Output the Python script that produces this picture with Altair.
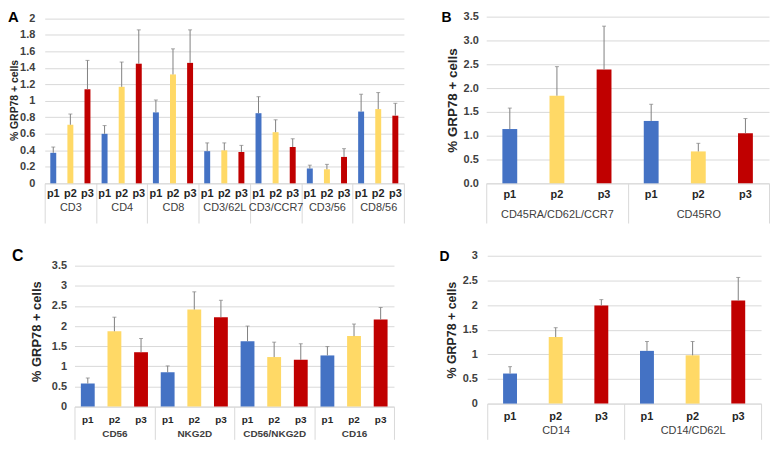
import altair as alt
import pandas as pd

P = ["p1", "p2", "p3"]
COLORS = ["#4472C4", "#FFD966", "#C00000"]
ERR_COLOR = "#808080"
GRID = "#d9d9d9"
YTITLE = "% GRP78 + cells"

# ---- Panel A ----
A_GROUPS = ["CD3", "CD4", "CD8", "CD3/62L", "CD3/CCR7", "CD3/56", "CD8/56"]
A_P1 = [0.37, 0.60, 0.86, 0.39, 0.85, 0.18, 0.87]
A_P1_ERR = [0.44, 0.70, 1.01, 0.49, 1.05, 0.22, 1.08]
A_P2 = [0.71, 1.17, 1.32, 0.40, 0.62, 0.17, 0.90]
A_P2_ERR = [0.84, 1.47, 1.63, 0.49, 0.77, 0.23, 1.10]
A_P3 = [1.14, 1.45, 1.46, 0.38, 0.44, 0.32, 0.82]
A_P3_ERR = [1.49, 1.86, 1.86, 0.46, 0.54, 0.42, 0.97]
A_TICKS = [0, 0.2, 0.4, 0.6, 0.8, 1.0, 1.2, 1.4, 1.6, 1.8, 2.0]

# ---- Panel B ----
B_GROUPS = ["CD45RA/CD62L/CCR7", "CD45RO"]
B_P1 = [1.14, 1.31]
B_P1_ERR = [1.58, 1.66]
B_P2 = [1.84, 0.67]
B_P2_ERR = [2.45, 0.84]
B_P3 = [2.39, 1.05]
B_P3_ERR = [3.30, 1.36]
B_TICKS = [0, 0.5, 1.0, 1.5, 2.0, 2.5, 3.0, 3.5]

# ---- Panel C ----
C_GROUPS = ["CD56", "NKG2D", "CD56/NKG2D", "CD16"]
C_P1 = [0.57, 0.85, 1.62, 1.27]
C_P1_ERR = [0.71, 1.01, 2.00, 1.49]
C_P2 = [1.87, 2.41, 1.23, 1.75]
C_P2_ERR = [2.22, 2.85, 1.60, 2.05]
C_P3 = [1.35, 2.22, 1.16, 2.16]
C_P3_ERR = [1.69, 2.64, 1.56, 2.46]
C_TICKS = [0, 0.5, 1.0, 1.5, 2.0, 2.5, 3.0, 3.5]

# ---- Panel D ----
D_GROUPS = ["CD14", "CD14/CD62L"]
D_P1 = [0.61, 1.07]
D_P1_ERR = [0.75, 1.26]
D_P2 = [1.35, 0.98]
D_P2_ERR = [1.54, 1.26]
D_P3 = [1.99, 2.09]
D_P3_ERR = [2.11, 2.56]
D_TICKS = [0, 0.5, 1.0, 1.5, 2.0, 2.5, 3.0]


def frame(groups, vals, errs):
    rows = []
    for pi_, p in enumerate(P):
        for gi, g in enumerate(groups):
            rows.append({"group": g, "p": p, "value": vals[pi_][gi], "err": errs[pi_][gi]})
    return pd.DataFrame(rows)


def panel(letter, groups, vals, errs, *, width, height, ymax, yticks, yfmt,
          xrange=None, axis_offset=0, label_pad=8, title_size=13, title_pad=4,
          bar_pi=0.65, p_dy=11, p_font=11, grp_font=11, grp_weight="normal",
          tick_len=40, grp_lp=-10, letter_dx=-37, letter_dy=10, letter_size=15):
    df = frame(groups, vals, errs)
    base = alt.Chart(df)
    xscale = dict(domain=groups, paddingInner=0, paddingOuter=0)
    span = width
    if xrange is not None:
        xscale["range"] = xrange
        span = xrange[1] - xrange[0]
    bw = span / len(groups)
    x = alt.X("group:N", scale=alt.Scale(**xscale),
              axis=alt.Axis(title=None, labelAngle=0, labelFontSize=grp_font,
                            labelFontWeight=grp_weight, labelColor="#404040",
                            labelPadding=grp_lp, labelBaseline="middle",
                            labelOverlap=False, labelLimit=0,
                            domain=True, domainColor=GRID, domainWidth=1,
                            ticks=True, tickBand="extent", tickSize=tick_len,
                            tickColor=GRID, tickWidth=1, grid=False))
    xo = alt.XOffset("p:N", scale=alt.Scale(domain=P, range=[0, bw],
                                            paddingInner=bar_pi,
                                            paddingOuter=bar_pi / 2))
    yscale = alt.Scale(domain=[0, ymax], nice=False, zero=True)
    yaxis = alt.Axis(values=yticks, format=yfmt, title=YTITLE,
                     titleFontSize=title_size, titleFontWeight="bold",
                     titleColor="#262626", titlePadding=title_pad,
                     labelFontSize=11, labelFontWeight="bold", labelColor="#404040",
                     labelPadding=label_pad, domain=False, ticks=False,
                     grid=True, gridColor=GRID, gridWidth=1, offset=axis_offset)

    bars = base.mark_bar().encode(
        x=x, xOffset=xo,
        y=alt.Y("value:Q", scale=yscale, axis=yaxis),
        color=alt.Color("p:N", scale=alt.Scale(domain=P, range=COLORS), legend=None),
    )
    rules = base.mark_rule(color=ERR_COLOR, strokeWidth=1).encode(
        x=x, xOffset=xo,
        y=alt.Y("value:Q", scale=yscale, axis=yaxis),
        y2="err:Q",
    )
    caps = base.mark_tick(color=ERR_COLOR, orient="horizontal", size=4,
                          thickness=1).encode(
        x=x, xOffset=xo,
        y=alt.Y("err:Q", scale=yscale, axis=yaxis),
    )
    plabels = base.mark_text(baseline="middle", dy=p_dy, fontSize=p_font,
                             fontWeight="bold", color="#262626").encode(
        x=x, xOffset=xo,
        y=alt.Y(datum=0, scale=yscale, axis=yaxis),
        text="p:N",
    )
    return alt.layer(bars, rules, caps, plabels).properties(
        width=width, height=height,
        title=alt.TitleParams(text=letter, anchor="start", frame="group",
                              orient="top", offset=0, dx=letter_dx, dy=letter_dy,
                              fontSize=letter_size, fontWeight="bold",
                              baseline="alphabetic", align="left", color="#000000"),
    )


A = panel("A", A_GROUPS, [A_P1, A_P2, A_P3], [A_P1_ERR, A_P2_ERR, A_P3_ERR],
          width=362, height=168, ymax=2.0204, yticks=A_TICKS, yfmt="~g",
          label_pad=10, title_size=10.5, title_pad=0, bar_pi=0.652,
          p_dy=11, p_font=11, grp_font=11, tick_len=40, grp_lp=-15.3,
          letter_dx=-37, letter_dy=25, letter_size=15)

B = panel("B", B_GROUPS, [B_P1, B_P2, B_P3], [B_P1_ERR, B_P2_ERR, B_P3_ERR],
          width=285, height=168, ymax=3.5, yticks=B_TICKS, yfmt=".1f",
          label_pad=8, title_size=13.5, title_pad=4, bar_pi=0.685,
          p_dy=11.3, p_font=11, grp_font=11, tick_len=40, grp_lp=-8.7,
          letter_dx=-45, letter_dy=25.5, letter_size=14)

C = panel("C", C_GROUPS, [C_P1, C_P2, C_P3], [C_P1_ERR, C_P2_ERR, C_P3_ERR],
          width=352, height=152, ymax=3.746, yticks=C_TICKS, yfmt="~g",
          xrange=[30, 352], axis_offset=-31,
          label_pad=9, title_size=13, title_pad=7.7, bar_pi=0.48,
          p_dy=14, p_font=10, grp_font=10, grp_weight="bold", tick_len=33,
          grp_lp=-6, letter_dx=-33, letter_dy=21.5, letter_size=16)

D = panel("D", D_GROUPS, [D_P1, D_P2, D_P3], [D_P1_ERR, D_P2_ERR, D_P3_ERR],
          width=277, height=149, ymax=3.0, yticks=D_TICKS, yfmt="~g",
          xrange=[1, 277], axis_offset=-1,
          label_pad=10, title_size=12.5, title_pad=3.4, bar_pi=0.695,
          p_dy=14, p_font=11, grp_font=11, tick_len=36, grp_lp=-9,
          letter_dx=-47, letter_dy=25.5, letter_size=14)

chart = alt.concat(A, B, C, D, columns=2, spacing={"row": 73, "column": 83},
                   bounds="flush").resolve_scale(
    xOffset="independent", color="independent").properties(padding=0).configure(
    font="Liberation Sans").configure_view(stroke=None)

chart.save("out.html", embed_options={"renderer": "svg", "actions": False})
